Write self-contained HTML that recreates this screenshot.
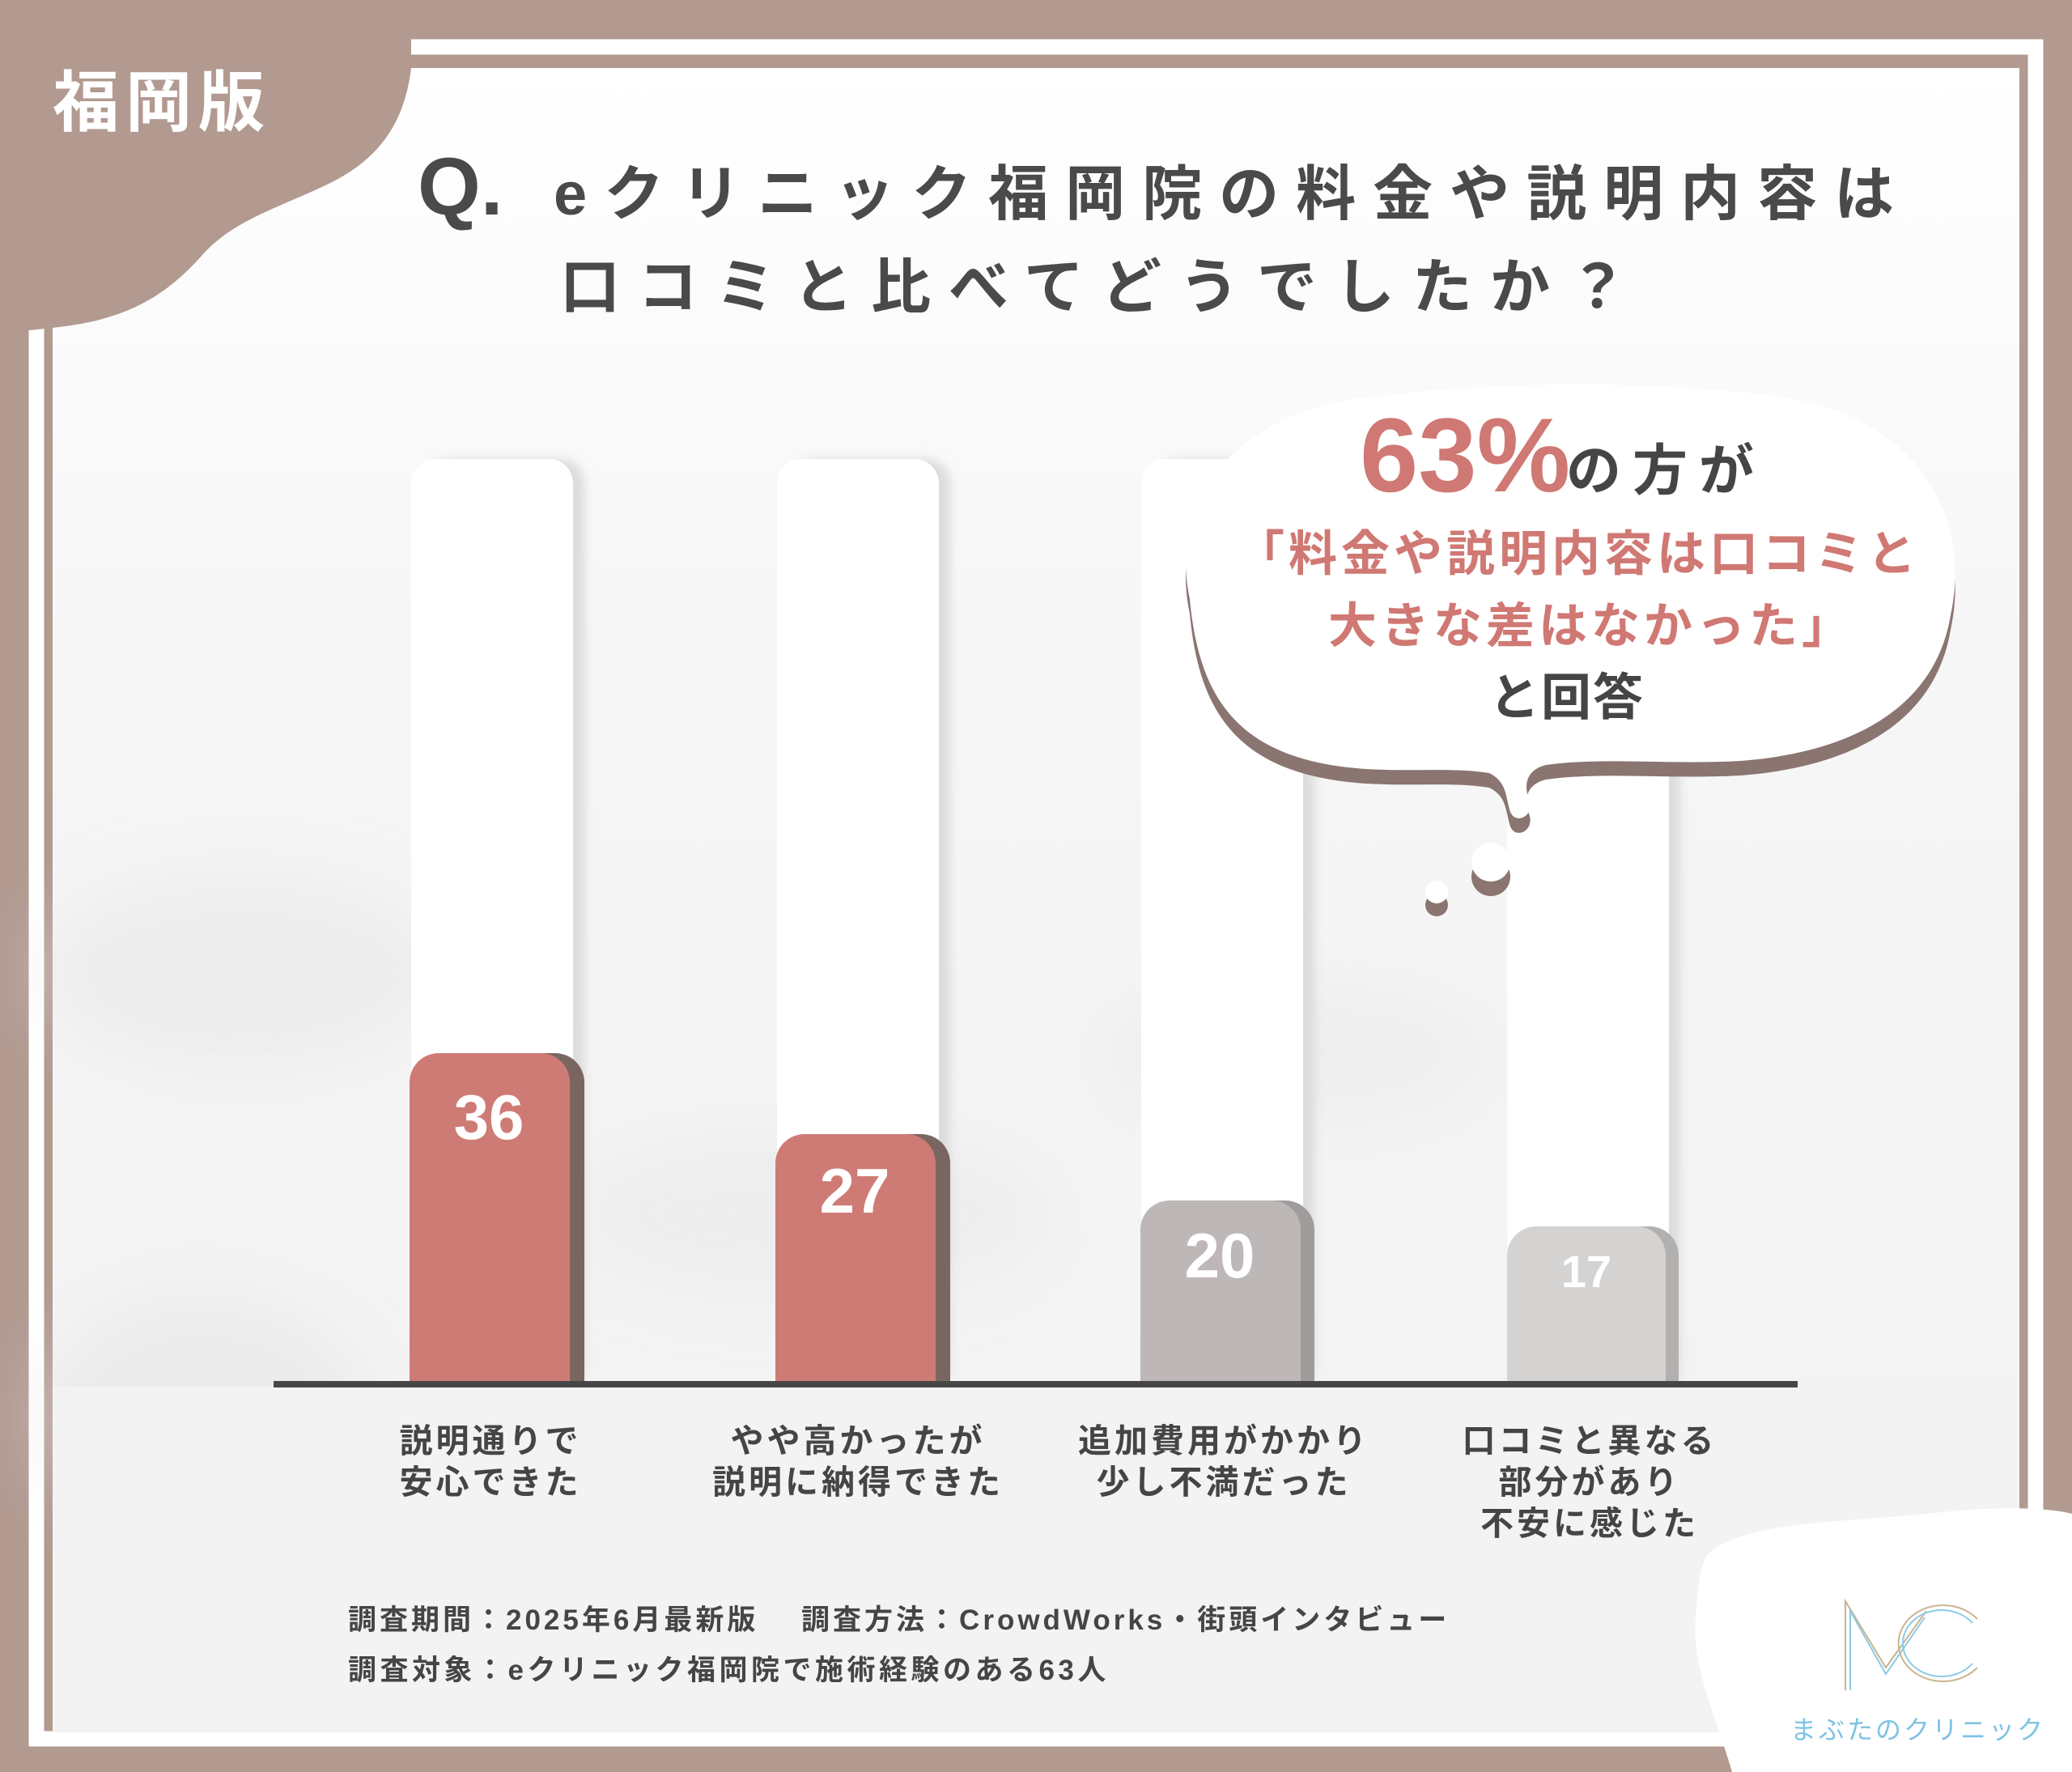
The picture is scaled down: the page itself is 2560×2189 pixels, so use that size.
<!DOCTYPE html>
<html><head><meta charset="utf-8"><style>
html,body{margin:0;padding:0;}
body{width:2560px;height:2189px;overflow:hidden;background:#b29a91;}
svg{display:block;}
text{font-family:"Liberation Sans","Noto Sans CJK JP",sans-serif;}
</style></head><body>
<svg width="2560" height="2189" viewBox="0 0 2560 2189" xmlns="http://www.w3.org/2000/svg">
<defs>
<linearGradient id="bg" x1="0" y1="0" x2="0" y2="1">
<stop offset="0" stop-color="#ffffff"/><stop offset="0.35" stop-color="#f6f6f6"/><stop offset="1" stop-color="#f2f2f2"/>
</linearGradient>
<filter id="blur" x="-50%" y="-50%" width="200%" height="200%"><feGaussianBlur stdDeviation="40"/></filter>
<filter id="sh" x="-20%" y="-20%" width="140%" height="140%"><feGaussianBlur stdDeviation="6"/></filter>
</defs>
<rect width="2560" height="2189" fill="#b29a91"/>
<rect x="45" y="58" width="2470" height="2090" fill="none" stroke="#ffffff" stroke-width="19"/>
<rect x="65" y="84" width="2430" height="2056" fill="url(#bg)"/>
<g filter="url(#blur)" opacity="0.5">
<ellipse cx="300" cy="1200" rx="250" ry="120" fill="#e4e4e4"/>
<ellipse cx="1000" cy="1500" rx="300" ry="100" fill="#e6e6e6"/>
<ellipse cx="250" cy="1750" rx="200" ry="150" fill="#e2e2e2"/>
<ellipse cx="1600" cy="1300" rx="250" ry="90" fill="#e8e8e8"/>
</g>
<!-- top-left blob -->
<path d="M0 0 L508 0 L508 84 C500 150 470 195 410 225 C350 255 290 270 250 315 C210 360 170 385 110 398 C80 404 55 406 36 408 L0 410 Z" fill="#b29a91"/>
<text x="65" y="155" font-size="82" font-weight="700" fill="#ffffff" letter-spacing="8">福岡版</text>
<text x="516" y="265" font-size="100" font-weight="700" fill="#4a4a4a">Q.</text>
<text x="684" y="265" font-size="74" font-weight="700" fill="#4a4a4a" letter-spacing="21">eクリニック福岡院の料金や説明内容は</text>
<text x="692" y="380" font-size="74" font-weight="700" fill="#4a4a4a" letter-spacing="22">口コミと比べてどうでしたか？</text>
<g>
<rect x="526" y="567" width="196" height="1150" rx="30" fill="#dcdcdc" filter="url(#sh)"/>
<rect x="508" y="567" width="200" height="1150" rx="30" fill="#ffffff"/>
<rect x="978" y="567" width="196" height="1150" rx="30" fill="#dcdcdc" filter="url(#sh)"/>
<rect x="960" y="567" width="200" height="1150" rx="30" fill="#ffffff"/>
<rect x="1428" y="567" width="196" height="1150" rx="30" fill="#dcdcdc" filter="url(#sh)"/>
<rect x="1410" y="567" width="200" height="1150" rx="30" fill="#ffffff"/>
<rect x="1880" y="567" width="196" height="1150" rx="30" fill="#dcdcdc" filter="url(#sh)"/>
<rect x="1862" y="567" width="200" height="1150" rx="30" fill="#ffffff"/>
</g>
<rect x="524" y="1301" width="198" height="460" rx="36" fill="#7a6661"/>
<rect x="506" y="1301" width="198" height="460" rx="36" fill="#cf7b75"/>
<rect x="976" y="1401" width="198" height="360" rx="36" fill="#7a6661"/>
<rect x="958" y="1401" width="198" height="360" rx="36" fill="#cf7b75"/>
<rect x="1426" y="1483" width="198" height="280" rx="36" fill="#9f9c9b"/>
<rect x="1409" y="1483" width="198" height="280" rx="36" fill="#bdb8b7"/>
<rect x="1878" y="1515" width="196" height="250" rx="36" fill="#b3b1b0"/>
<rect x="1862" y="1515" width="196" height="250" rx="36" fill="#d5d3d2"/>
<text x="604" y="1407" font-size="78" font-weight="700" fill="#ffffff" text-anchor="middle">36</text>
<text x="1056" y="1498" font-size="78" font-weight="700" fill="#ffffff" text-anchor="middle">27</text>
<text x="1507" y="1578" font-size="78" font-weight="700" fill="#ffffff" text-anchor="middle">20</text>
<text x="1960" y="1590" font-size="56" font-weight="700" fill="#ffffff" text-anchor="middle">17</text>
<rect x="65" y="1713" width="2430" height="427" fill="#f3f3f3"/>
<rect x="338" y="1706" width="1883" height="8" fill="#474747"/>
<g font-size="41" font-weight="700" fill="#454545" text-anchor="middle" letter-spacing="4">
<text x="606" y="1794">説明通りで</text><text x="606" y="1845">安心できた</text>
<text x="1060" y="1794">やや高かったが</text><text x="1060" y="1845">説明に納得できた</text>
<text x="1512" y="1794">追加費用がかかり</text><text x="1512" y="1845">少し不満だった</text>
<text x="1964" y="1794">口コミと異なる</text><text x="1964" y="1845">部分があり</text><text x="1964" y="1896">不安に感じた</text>
</g>
<g font-size="35" font-weight="700" fill="#454545">
<text x="430" y="2013" letter-spacing="4">調査期間：2025年6月最新版　 調査方法：CrowdWorks・街頭インタビュー</text>
<text x="430" y="2075" letter-spacing="4.5">調査対象：eクリニック福岡院で施術経験のある63人</text>
</g>
<path d="M2110 1920 C2150 1880 2280 1880 2380 1870 C2450 1862 2520 1860 2560 1870 L2560 2189 L2140 2189 C2120 2120 2090 2060 2095 2000 C2098 1960 2100 1935 2110 1920 Z" fill="#ffffff"/>
<g fill="none" stroke-width="2">
<path d="M2280 2088 L2280 1978 L2330 2060 L2380 1990" stroke="#c9b48f"/>
<path d="M2286 2088 L2286 1990 L2330 2068 L2378 1998" stroke="#8ccbe6"/>
<path d="M2443 2000 A55 47 0 1 0 2443 2060" stroke="#c9b48f"/>
<path d="M2437 2005 A48 41 0 1 0 2437 2055" stroke="#8ccbe6"/>
</g>
<text x="2212" y="2148" font-size="32" fill="#7ec3e3" letter-spacing="3">まぶたのクリニック</text>
<g fill="#8a7570">
<path d="M1470 740 C1440 600 1550 500 1700 490 C1850 470 2050 470 2200 490 C2350 510 2440 620 2410 760 C2390 880 2280 930 2150 940 C2060 945 1980 935 1910 945 C1890 950 1880 965 1890 990 C1895 1010 1870 1020 1865 1000 C1860 980 1860 965 1840 955 C1780 945 1700 960 1620 940 C1520 915 1480 850 1470 740 Z" transform="translate(0,18)"/>
<circle cx="1842" cy="1083" r="24"/><circle cx="1775" cy="1118" r="14"/>
</g>
<g fill="#ffffff">
<path d="M1470 740 C1440 600 1550 500 1700 490 C1850 470 2050 470 2200 490 C2350 510 2440 620 2410 760 C2390 880 2280 930 2150 940 C2060 945 1980 935 1910 945 C1890 950 1880 965 1890 990 C1895 1010 1870 1020 1865 1000 C1860 980 1860 965 1840 955 C1780 945 1700 960 1620 940 C1520 915 1480 850 1470 740 Z"/>
<circle cx="1842" cy="1065" r="24"/><circle cx="1775" cy="1102" r="14"/>
</g>
<text x="1680" y="607" font-size="130" font-weight="700" fill="#d07873">63%</text>
<text x="1935" y="605" font-size="68" font-weight="700" fill="#454545" letter-spacing="14">の方が</text>
<text x="1527" y="705" font-size="60" font-weight="700" fill="#d07873" letter-spacing="5">「料金や説明内容は口コミと</text>
<text x="1641" y="794" font-size="60" font-weight="700" fill="#d07873" letter-spacing="5">大きな差はなかった」</text>
<text x="1840" y="883" font-size="62" font-weight="700" fill="#454545" letter-spacing="2">と回答</text>
</svg>
</body></html>
